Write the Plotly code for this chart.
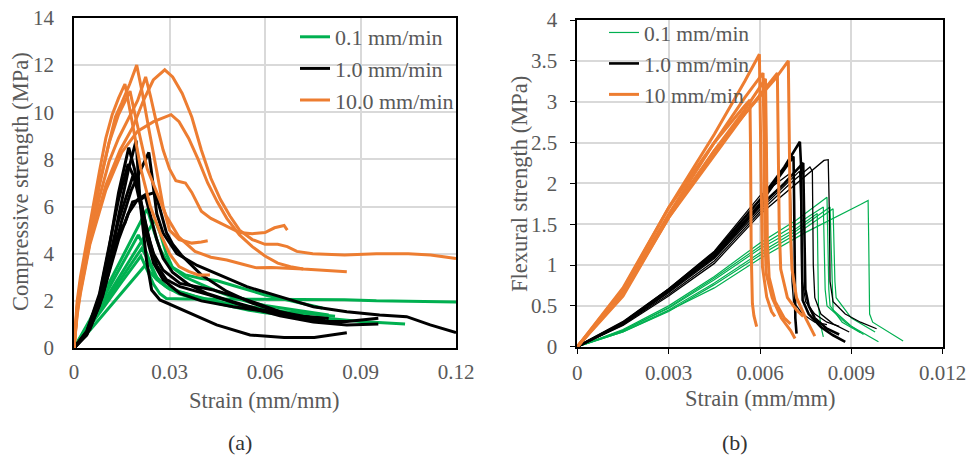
import plotly.graph_objects as go

# ---------------- (a) Compressive: strain (mm/mm) vs stress (MPa) ----------------
comp_green_strain = [
    [0, 0.005, 0.010, 0.015, 0.019, 0.023, 0.025, 0.027, 0.030, 0.035, 0.040, 0.045, 0.050, 0.055, 0.060, 0.065, 0.070, 0.075, 0.078],
    [0, 0.005, 0.010, 0.015, 0.020, 0.0254, 0.027, 0.029, 0.031, 0.035, 0.040, 0.045, 0.050, 0.055, 0.060, 0.065, 0.070, 0.075, 0.080],
    [0, 0.005, 0.010, 0.015, 0.0202, 0.022, 0.024, 0.026, 0.029, 0.033, 0.038, 0.044, 0.050, 0.056, 0.062, 0.068, 0.074],
    [0, 0.005, 0.010, 0.015, 0.0213, 0.023, 0.025, 0.027, 0.030, 0.035, 0.040, 0.045, 0.050, 0.055, 0.060, 0.070, 0.080, 0.090, 0.097, 0.104],
    [0, 0.005, 0.010, 0.015, 0.021, 0.023, 0.025, 0.027, 0.029, 0.035, 0.045, 0.055, 0.065, 0.075, 0.085, 0.095, 0.105, 0.120],
    [0, 0.005, 0.010, 0.015, 0.0223, 0.024, 0.026, 0.029, 0.033, 0.038, 0.044, 0.050, 0.058, 0.066, 0.074, 0.082],
]
comp_green_stress = [
    [0, 1.2, 2.5, 3.8, 4.9, 5.9, 5.0, 4.2, 3.5, 3.1, 2.95, 2.85, 2.65, 2.45, 2.25, 2.1, 1.95, 1.8, 1.7],
    [0, 1.0, 2.1, 3.2, 4.3, 5.43, 4.9, 4.0, 3.4, 3.0, 2.7, 2.4, 2.15, 1.95, 1.8, 1.7, 1.6, 1.5, 1.4],
    [0, 1.1, 2.3, 3.5, 4.8, 4.3, 3.6, 3.0, 2.6, 2.3, 2.1, 1.95, 1.8, 1.65, 1.55, 1.45, 1.35],
    [0, 1.0, 2.0, 3.0, 4.23, 3.8, 3.2, 2.8, 2.5, 2.3, 2.1, 1.9, 1.75, 1.6, 1.5, 1.35, 1.25, 1.12, 1.07, 1.02],
    [0, 0.9, 1.85, 2.8, 3.9, 3.3, 2.7, 2.3, 2.1, 2.08, 2.08, 2.05, 2.05, 2.08, 2.05, 2.0, 1.97, 1.95],
    [0, 0.75, 1.55, 2.35, 3.5, 3.2, 2.9, 2.6, 2.4, 2.2, 2.0, 1.85, 1.7, 1.55, 1.45, 1.35],
]
comp_black_strain = [
    [0, 0.004, 0.008, 0.011, 0.014, 0.017, 0.0195, 0.0207, 0.0228, 0.0244, 0.027, 0.0343, 0.0448, 0.0553, 0.066, 0.0755, 0.0857],
    [0, 0.004, 0.008, 0.011, 0.014, 0.0172, 0.019, 0.021, 0.023, 0.025, 0.028, 0.0333, 0.0438, 0.0543, 0.0647, 0.0752, 0.0783],
    [0, 0.005, 0.009, 0.012, 0.015, 0.018, 0.020, 0.022, 0.0235, 0.0244, 0.026, 0.028, 0.0323, 0.0387, 0.0469, 0.0543, 0.0647, 0.0752, 0.0857, 0.096, 0.1045, 0.1119, 0.120],
    [0, 0.004, 0.008, 0.011, 0.014, 0.017, 0.019, 0.021, 0.023, 0.025, 0.028, 0.0333, 0.040, 0.050, 0.0647, 0.0752, 0.0857, 0.0956],
    [0, 0.004, 0.008, 0.011, 0.014, 0.0185, 0.020, 0.022, 0.024, 0.026, 0.029, 0.0333, 0.0438, 0.0543, 0.0647, 0.0752, 0.0857, 0.0956],
    [0, 0.004, 0.008, 0.011, 0.0134, 0.016, 0.0184, 0.021, 0.023, 0.0255, 0.027, 0.029, 0.031, 0.034, 0.040, 0.048, 0.056, 0.064, 0.072, 0.080],
    [0, 0.004, 0.008, 0.011, 0.014, 0.017, 0.020, 0.0223, 0.024, 0.026, 0.028, 0.031, 0.036, 0.042, 0.050, 0.058, 0.066, 0.073, 0.079],
]
comp_black_stress = [
    [0, 0.6, 1.9, 3.6, 5.6, 7.5, 8.8, 6.3, 3.7, 2.46, 2.04, 1.61, 0.98, 0.55, 0.45, 0.45, 0.65],
    [0, 0.7, 2.2, 4.2, 6.6, 8.5, 7.6, 6.2, 4.9, 4.0, 3.3, 2.74, 2.46, 2.04, 1.54, 1.19, 1.25],
    [0, 0.8, 2.2, 3.8, 5.4, 6.7, 7.3, 7.9, 8.3, 7.4, 5.7, 4.87, 4.0, 3.5, 3.03, 2.6, 2.18, 1.75, 1.54, 1.4, 1.33, 0.98, 0.65],
    [0, 0.7, 2.3, 4.3, 6.3, 7.8, 7.2, 6.0, 4.6, 3.6, 2.9, 2.32, 2.0, 1.75, 1.47, 1.12, 1.12, 1.26],
    [0, 0.6, 2.0, 3.7, 5.4, 7.3, 6.8, 5.6, 4.4, 3.5, 2.9, 2.6, 2.2, 1.75, 1.37, 1.1, 0.98, 1.02],
    [0, 0.6, 2.0, 3.6, 4.7, 5.3, 6.2, 6.3, 6.5, 6.6, 5.9, 4.9, 4.4, 3.9, 3.1, 2.4, 1.9, 1.55, 1.35, 1.25],
    [0, 0.55, 1.8, 3.2, 4.6, 5.7, 6.3, 6.5, 5.6, 4.6, 3.8, 3.2, 2.7, 2.3, 1.95, 1.65, 1.45, 1.3, 1.25],
]
comp_orange_strain = [
    [0, 0.001, 0.002, 0.005, 0.008, 0.011, 0.013, 0.015, 0.0175, 0.0197, 0.0215, 0.0235, 0.025, 0.026, 0.028, 0.030, 0.033, 0.037, 0.040, 0.042],
    [0, 0.001, 0.002, 0.005, 0.010, 0.0145, 0.0186, 0.0218, 0.0249, 0.0285, 0.031, 0.034, 0.037, 0.040, 0.043, 0.046, 0.049, 0.052, 0.056, 0.060, 0.064, 0.067, 0.070, 0.075, 0.085, 0.095, 0.105, 0.112, 0.120],
    [0, 0.001, 0.002, 0.005, 0.008, 0.011, 0.014, 0.017, 0.020, 0.0225, 0.024, 0.026, 0.028, 0.030, 0.032, 0.035, 0.037, 0.040, 0.043, 0.046, 0.049, 0.052, 0.056, 0.060, 0.063, 0.066, 0.067],
    [0, 0.001, 0.002, 0.005, 0.010, 0.015, 0.020, 0.025, 0.0305, 0.033, 0.036, 0.039, 0.042, 0.045, 0.048, 0.052, 0.056, 0.060, 0.064, 0.068, 0.072, 0.078, 0.0857],
    [0, 0.001, 0.002, 0.005, 0.008, 0.010, 0.012, 0.014, 0.016, 0.017, 0.019, 0.021, 0.024, 0.027, 0.030, 0.033, 0.036, 0.039, 0.0427],
    [0, 0.001, 0.002, 0.005, 0.008, 0.011, 0.014, 0.0176, 0.019, 0.021, 0.023, 0.026, 0.029, 0.033, 0.038, 0.043, 0.048, 0.053, 0.0574, 0.062, 0.068, 0.072],
]
comp_orange_stress = [
    [0, 1.8, 2.8, 4.9, 6.9, 8.7, 9.8, 10.4, 11.2, 12.0, 10.8, 9.3, 8.3, 7.5, 6.0, 5.0, 4.6, 4.45, 4.5, 4.55],
    [0, 1.5, 2.4, 4.5, 6.9, 8.4, 9.4, 10.5, 11.37, 11.8, 11.5, 10.8, 9.8, 8.4, 7.2, 6.3, 5.6, 5.0, 4.6, 4.4, 4.4, 4.3, 4.1, 4.0, 3.95, 4.0, 4.0, 3.95, 3.8],
    [0, 1.6, 2.6, 4.6, 6.4, 7.9, 8.9, 9.7, 10.5, 11.5, 10.7, 9.5, 8.4, 7.6, 7.1, 7.0, 6.6, 5.8, 5.5, 5.3, 5.1, 4.9, 4.85, 4.9, 5.1, 5.2, 5.0],
    [0, 1.4, 2.3, 4.4, 6.7, 8.3, 9.2, 9.6, 9.9, 9.6, 8.9, 8.0, 7.0, 6.2, 5.5, 4.8, 4.3, 3.9, 3.6, 3.45, 3.35, 3.3, 3.24],
    [0, 2.0, 3.0, 5.3, 7.5, 8.9, 9.9, 10.6, 11.2, 10.5, 9.0, 7.6, 6.0, 4.9, 4.0, 3.45, 3.25, 3.1, 3.1],
    [0, 1.7, 2.7, 5.0, 7.0, 8.7, 9.9, 10.9, 10.0, 8.8, 7.6, 6.6, 5.6, 4.7, 4.1, 3.85, 3.73, 3.55, 3.4, 3.42, 3.38, 3.35],
]

# ---------------- (b) Flexural: strain (mm/mm) vs stress (MPa) ----------------
flex_green_strain = [
    [0, 0.0015, 0.003, 0.0045, 0.006, 0.0072, 0.00788, 0.0079, 0.00792, 0.008, 0.00808],
    [0, 0.0015, 0.003, 0.0045, 0.006, 0.0072, 0.0082, 0.00823, 0.00826, 0.0083, 0.0087, 0.0093],
    [0, 0.0015, 0.003, 0.0045, 0.006, 0.0072, 0.0083, 0.00833, 0.00836, 0.0084, 0.009, 0.00989],
    [0, 0.0015, 0.003, 0.0045, 0.006, 0.0072, 0.0084, 0.00843, 0.00846, 0.0085, 0.009, 0.00978],
    [0, 0.0015, 0.003, 0.0045, 0.006, 0.0072, 0.00808, 0.00811, 0.00814, 0.0082, 0.0088, 0.0094],
    [0, 0.0015, 0.003, 0.0045, 0.006, 0.0075, 0.0093, 0.00955, 0.00957, 0.00958, 0.0096, 0.0097, 0.0107],
]
flex_green_stress = [
    [0, 0.2, 0.47, 0.82, 1.2, 1.45, 1.63, 1.2, 0.5, 0.25, 0.12],
    [0, 0.21, 0.5, 0.86, 1.27, 1.55, 1.83, 1.4, 0.7, 0.5, 0.3, 0.17],
    [0, 0.19, 0.45, 0.78, 1.15, 1.42, 1.71, 1.3, 0.7, 0.45, 0.25, 0.06],
    [0, 0.18, 0.43, 0.76, 1.12, 1.38, 1.69, 1.3, 0.8, 0.6, 0.35, 0.18],
    [0, 0.2, 0.48, 0.84, 1.23, 1.5, 1.71, 1.3, 0.7, 0.5, 0.3, 0.15],
    [0, 0.18, 0.44, 0.72, 1.08, 1.4, 1.74, 1.79, 1.3, 0.8, 0.4, 0.3, 0.07],
]
flex_black_strain = [
    [0, 0.0015, 0.003, 0.0045, 0.006, 0.0068, 0.00731, 0.00735, 0.00737, 0.0074, 0.0076, 0.008, 0.0084, 0.0088],
    [0, 0.0015, 0.003, 0.0045, 0.006, 0.0071, 0.00712, 0.00714, 0.00716, 0.0072],
    [0, 0.0015, 0.003, 0.0045, 0.006, 0.0068, 0.00742, 0.00746, 0.00749, 0.0076, 0.0078, 0.0082, 0.0086],
    [0, 0.0015, 0.003, 0.0045, 0.006, 0.007, 0.00764, 0.00772, 0.00775, 0.0078, 0.008, 0.0084, 0.00893],
    [0, 0.0015, 0.003, 0.0045, 0.006, 0.0075, 0.0081, 0.00824, 0.00828, 0.0083, 0.0084, 0.0088, 0.0093, 0.00983],
    [0, 0.0015, 0.003, 0.0045, 0.006, 0.00698, 0.00703, 0.00705, 0.0071, 0.0074, 0.0078, 0.0082],
    [0, 0.0015, 0.003, 0.0045, 0.006, 0.0073, 0.00736, 0.00739, 0.0075, 0.0078, 0.0082, 0.0086],
]
flex_black_stress = [
    [0, 0.3, 0.7, 1.15, 1.8, 2.2, 2.51, 2.2, 1.2, 0.57, 0.4, 0.24, 0.14, 0.06],
    [0, 0.28, 0.68, 1.12, 1.75, 2.33, 1.8, 0.9, 0.35, 0.16],
    [0, 0.29, 0.69, 1.1, 1.72, 2.0, 2.25, 1.5, 0.7, 0.5, 0.35, 0.22, 0.15],
    [0, 0.27, 0.64, 1.05, 1.65, 2.0, 2.2, 2.15, 1.0, 0.6, 0.4, 0.28, 0.18],
    [0, 0.26, 0.62, 1.02, 1.62, 2.1, 2.28, 2.29, 1.6, 0.8, 0.55, 0.4, 0.3, 0.22],
    [0, 0.3, 0.71, 1.17, 1.85, 2.12, 1.5, 0.8, 0.55, 0.4, 0.3, 0.27],
    [0, 0.28, 0.66, 1.08, 1.68, 2.15, 1.5, 0.8, 0.55, 0.4, 0.3, 0.25],
]
flex_orange_strain = [
    [0, 0.0015, 0.003, 0.0045, 0.0055, 0.00567, 0.00569, 0.00571, 0.00575, 0.0058, 0.00589],
    [0, 0.0015, 0.003, 0.0045, 0.0055, 0.00598, 0.00601, 0.00604, 0.00608, 0.00622, 0.00638, 0.00649],
    [0, 0.0015, 0.003, 0.0045, 0.0055, 0.0061, 0.00613, 0.00616, 0.0062, 0.0064, 0.0067, 0.0070, 0.00715],
    [0, 0.0015, 0.003, 0.0045, 0.0055, 0.00657, 0.0066, 0.00663, 0.00668, 0.0069, 0.0072, 0.00742],
    [0, 0.0015, 0.003, 0.0045, 0.0055, 0.0065, 0.00693, 0.00697, 0.0070, 0.00705, 0.0072, 0.0075, 0.0078],
    [0, 0.0015, 0.003, 0.0045, 0.0055, 0.00618, 0.00621, 0.00624, 0.0063, 0.0065, 0.0068, 0.0070],
]
flex_orange_stress = [
    [0, 0.72, 1.7, 2.5, 2.95, 3.02, 2.4, 1.2, 0.53, 0.38, 0.245],
    [0, 0.7, 1.7, 2.6, 3.25, 3.58, 2.8, 1.6, 0.98, 0.61, 0.43, 0.37],
    [0, 0.66, 1.62, 2.5, 3.05, 3.35, 2.6, 1.4, 0.9, 0.6, 0.35, 0.2, 0.1],
    [0, 0.64, 1.58, 2.35, 2.85, 3.35, 2.6, 1.5, 0.95, 0.6, 0.45, 0.37],
    [0, 0.66, 1.6, 2.4, 2.85, 3.28, 3.5, 2.6, 1.4, 0.95, 0.6, 0.35, 0.13],
    [0, 0.62, 1.58, 2.4, 2.9, 3.28, 2.5, 1.3, 0.85, 0.55, 0.35, 0.28],
]
flex_black_widths = [2.6, 2.6, 2.6, 1.3, 1.3, 1.3, 1.3]

comp_labels = ["0.1 mm/min", "1.0 mm/min", "10.0 mm/min"]
flex_labels = ["0.1 mm/min", "1.0 mm/min", "10 mm/min"]
comp_xticks = [0, 0.03, 0.06, 0.09, 0.12]
comp_xticktext = ["0", "0.03", "0.06", "0.09", "0.12"]
comp_yticks = [0, 2, 4, 6, 8, 10, 12, 14]
flex_xticks = [0, 0.003, 0.006, 0.009, 0.012]
flex_xticktext = ["0", "0.003", "0.006", "0.009", "0.012"]
flex_yticks = [0, 0.5, 1, 1.5, 2, 2.5, 3, 3.5, 4]
flex_yticktext = ["0", "0.5", "1", "1.5", "2", "2.5", "3", "3.5", "4"]

GREEN = "#00B050"
BLACK = "#000000"
ORANGE = "#ED7D31"
FONT = "Liberation Serif"
GRAY = "#595959"

W, H = 967, 457
fig = go.Figure()


def add_series(xs, ys, color, widths, name, xa, ya, legend, group):
    for i, (x, y) in enumerate(zip(xs, ys)):
        fig.add_trace(go.Scatter(
            x=x, y=y, mode="lines", name=name,
            line=dict(color=color, width=widths[i]),
            xaxis=xa, yaxis=ya, legend=legend, legendgroup=group,
            showlegend=(i == 0), hoverinfo="skip"))


add_series(comp_green_strain, comp_green_stress, GREEN, [3] * 6, comp_labels[0], "x", "y", "legend", "ag")
add_series(comp_black_strain, comp_black_stress, BLACK, [3] * 7, comp_labels[1], "x", "y", "legend", "ak")
add_series(comp_orange_strain, comp_orange_stress, ORANGE, [3] * 6, comp_labels[2], "x", "y", "legend", "ao")
add_series(flex_green_strain, flex_green_stress, GREEN, [1.2] * 6, flex_labels[0], "x2", "y2", "legend2", "bg")
add_series(flex_black_strain, flex_black_stress, BLACK, flex_black_widths, flex_labels[1], "x2", "y2", "legend2", "bk")
add_series(flex_orange_strain, flex_orange_stress, ORANGE, [3] * 6, flex_labels[2], "x2", "y2", "legend2", "bo")

tickfont = dict(family=FONT, size=21, color=GRAY)
common = dict(showgrid=True, gridcolor="#d9d9d9", gridwidth=1.5, zeroline=False,
              showline=True, linecolor="#000000", linewidth=1.5, mirror=True,
              tickfont=tickfont, automargin=False)

fig.update_layout(
    width=W, height=H, margin=dict(l=0, r=0, t=0, b=0, autoexpand=False),
    paper_bgcolor="white", plot_bgcolor="white",
    xaxis=dict(domain=[74 / W, 456 / W], range=[0, 0.12], tickvals=comp_xticks,
               ticktext=comp_xticktext, ticks="", ticklabelstandoff=4, anchor="y", **common),
    yaxis=dict(domain=[1 - 348 / H, 1 - 18 / H], range=[0, 14], tickvals=comp_yticks,
               ticks="", ticklabelstandoff=14, anchor="x", **common),
    xaxis2=dict(domain=[577.3 / W, 942.7 / W], range=[0, 0.012], tickvals=flex_xticks,
                ticktext=flex_xticktext, ticks="outside", ticklen=6, tickcolor="#000000",
                tickwidth=1.3, ticklabelstandoff=0, anchor="y2", **common),
    yaxis2=dict(domain=[1 - 346.7 / H, 1 - 20 / H], range=[0, 4], tickvals=flex_yticks,
                ticktext=flex_yticktext, ticks="outside", ticklen=6, tickcolor="#000000",
                tickwidth=1.3, ticklabelstandoff=8, anchor="x2", **common),
    legend=dict(x=(337 - 42) / W, y=1 - 16 / H, xanchor="left", yanchor="top",
                bgcolor="rgba(0,0,0,0)", font=dict(family=FONT, size=22, color=GRAY),
                tracegroupgap=0, itemwidth=30),
    legend2=dict(x=(646 - 42) / W, y=1 - 12 / H, xanchor="left", yanchor="top",
                 bgcolor="rgba(0,0,0,0)", font=dict(family=FONT, size=21.5, color=GRAY),
                 tracegroupgap=0, itemwidth=30),
)


def ann(text, px, py, angle=0, color=GRAY, size=22.5):
    fig.add_annotation(text=text, x=px / W, y=1 - py / H, xref="paper", yref="paper",
                       showarrow=False, xanchor="center", yanchor="middle", textangle=angle,
                       font=dict(family=FONT, size=size, color=color))


ann("Compressive strength (MPa)", 20, 182, angle=-90)
ann("Strain (mm/mm)", 264, 400)
ann("(a)", 240, 442, color="#333333", size=22)
ann("Flexural strength (MPa)", 519, 184, angle=-90)
ann("Strain (mm/mm)", 760, 398)
ann("(b)", 735, 442, color="#333333", size=22)

fig.write_html("out.html", config={"displayModeBar": False},
               post_script="document.body.style.margin='0px';document.body.style.overflow='hidden';")
